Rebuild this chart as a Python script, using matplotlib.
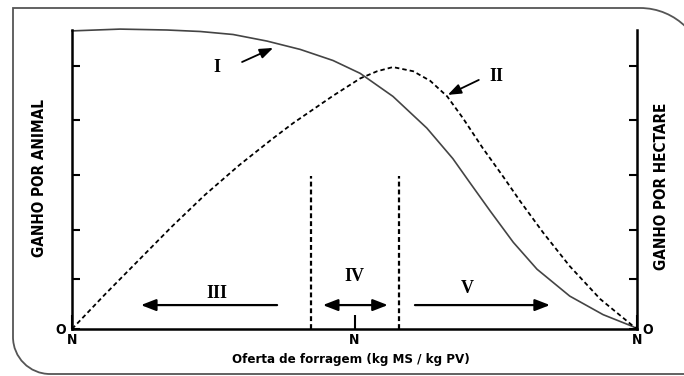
import numpy as np
import matplotlib
matplotlib.use("Agg")
import matplotlib.pyplot as plt
from matplotlib import font_manager
from matplotlib.path import Path
from matplotlib.patches import PathPatch

plt.rcParams["lines.scale_dashes"] = False

# ----- data (x: 0..1 forage offer, y: 0..1 gain) -----
# curve I: gain per animal
curve1_x = [0.000, 0.085, 0.168, 0.227, 0.285, 0.345, 0.404, 0.462, 0.510, 0.568,
            0.628, 0.674, 0.704, 0.740, 0.781, 0.823, 0.881, 0.940, 0.993, 1.000]
curve1_y = [0.997, 1.003, 1.000, 0.995, 0.985, 0.963, 0.935, 0.898, 0.855, 0.778,
            0.672, 0.570, 0.490, 0.395, 0.290, 0.200, 0.110, 0.048, 0.008, 0.000]

# curve II: gain per hectare
curve2_x = [0.000, 0.058, 0.119, 0.177, 0.235, 0.296, 0.354, 0.391, 0.462, 0.510,
            0.540, 0.568, 0.604, 0.634, 0.664, 0.692, 0.727, 0.763, 0.793, 0.834,
            0.881, 0.935, 0.993, 1.000]
curve2_y = [0.000, 0.115, 0.232, 0.343, 0.448, 0.548, 0.635, 0.688, 0.780, 0.838,
            0.862, 0.876, 0.862, 0.830, 0.778, 0.705, 0.605, 0.510, 0.428, 0.322,
            0.210, 0.100, 0.010, 0.000]

limits_x = [0.423, 0.579]
limit_top = 0.512

ytick_vals = [0.0, 0.167, 0.331, 0.515, 0.699, 0.880]
ytick_labels = ["O", "", "", "", "", ""]
xtick_vals = [0.0, 0.5, 1.0]
xtick_labels = ["N", "N", "N"]

# pick a narrow sans for the axis texts
_entries = font_manager.fontManager.ttflist
_names = {f.name for f in _entries}
if "Liberation Sans Narrow" in _names:
    narrow = dict(family="Liberation Sans Narrow")
elif any(f.name == "DejaVu Sans" and "condensed" in str(f.stretch) for f in _entries):
    narrow = dict(family="DejaVu Sans", stretch="condensed")
else:
    narrow = dict(family="Liberation Sans")
serif = "Liberation Serif"

W, H = 684, 376
fig = plt.figure(figsize=(W / 100, H / 100), dpi=100)


def fx(px):
    return px / W


def fy(py):
    return 1 - py / H


ax = fig.add_axes([fx(72), fy(329), fx(637) - fx(72), fy(30) - fy(329)])
ax.set_xlim(0, 1)
ax.set_ylim(0, 1)
ax.spines["top"].set_visible(False)
for s in ("left", "right", "bottom"):
    ax.spines[s].set_linewidth(1.8)

ax.set_yticks(ytick_vals, ytick_labels, weight="bold", fontsize=10, **narrow)
ax.set_xticks(xtick_vals, xtick_labels, weight="bold", fontsize=10, **narrow)
ax.tick_params(axis="y", direction="in", length=6, width=1.5, pad=4,
               left=True, right=True, labelleft=True, labelright=True)
ax.tick_params(axis="x", direction="in", length=10, width=1.5, pad=3)

# curves
ax.plot(curve1_x, curve1_y, color="#444444", lw=1.2, clip_on=False,
        solid_joinstyle="round")
ax.plot(curve2_x, curve2_y, color="black", lw=1.3, dashes=(3.2, 2.2), clip_on=False)

for xv in limits_x:
    ax.plot([xv, xv], [0, limit_top], color="black", lw=1.6, dashes=(3.5, 2.2))

# region arrows
arrow_kw = dict(arrowstyle="-|>,head_length=0.9,head_width=0.35", color="black",
                lw=1.6, shrinkA=0, shrinkB=0)
ax.annotate("", xy=(0.122, 0.080), xytext=(0.363, 0.080), arrowprops=arrow_kw)
ax.annotate("", xy=(0.846, 0.080), xytext=(0.607, 0.080), arrowprops=arrow_kw)
ax.annotate("", xy=(0.559, 0.080), xytext=(0.444, 0.080),
            arrowprops=dict(arrow_kw, arrowstyle="<|-|>,head_length=0.9,head_width=0.35"))

lab_kw = dict(family=serif, weight="bold", fontsize=13, ha="center", va="center")
ax.text(0.257, 0.120, "III", **lab_kw)
ax.text(0.499, 0.174, "IV", **lab_kw)
ax.text(0.699, 0.137, "V", **lab_kw)
ax.text(0.257, 0.876, "I", **lab_kw)
ax.text(0.752, 0.843, "II", **lab_kw)

small_arrow = dict(arrowstyle="-|>,head_length=0.8,head_width=0.3", color="black",
                   lw=1.3, shrinkA=0, shrinkB=0)
ax.annotate("", xy=(0.356, 0.940), xytext=(0.301, 0.893), arrowprops=small_arrow)
ax.annotate("", xy=(0.665, 0.783), xytext=(0.720, 0.833), arrowprops=small_arrow)

# axis titles
fig.text(fx(40), fy(178), "GANHO POR ANIMAL", rotation=90, ha="center", va="center",
         weight="bold", fontsize=11, **narrow)
fig.text(fx(661), fy(186), "GANHO POR HECTARE", rotation=90, ha="center", va="center",
         weight="bold", fontsize=11, **narrow)
fig.text(fx(351), fy(360), "Oferta de forragem (kg MS / kg PV)", ha="center",
         va="center", weight="bold", fontsize=9.5, **narrow)

# rounded frame around the figure (square top-left, rounded top-right / bottom-left)
k = 0.5523
r1, cx1, cy1 = 65, 640, 73
r2, cx2, cy2 = 37, 50, 337
verts = [
    (cx1 + r1, cy1),
    (cx1 + r1, cy1 - k * r1), (cx1 + k * r1, cy1 - r1), (cx1, cy1 - r1),
    (13, 8),
    (13, cy2),
    (13, cy2 + k * r2), (cx2 - k * r2, cy2 + r2), (cx2, cy2 + r2),
    (720, cy2 + r2),
]
codes = [Path.MOVETO, Path.CURVE4, Path.CURVE4, Path.CURVE4, Path.LINETO,
         Path.LINETO, Path.CURVE4, Path.CURVE4, Path.CURVE4, Path.LINETO]
frame = Path([(fx(x), fy(y)) for x, y in verts], codes)
fig.patches.append(PathPatch(frame, transform=fig.transFigure, fill=False,
                             edgecolor="#555555", lw=1.3))

fig.savefig("out.png", dpi=100)
